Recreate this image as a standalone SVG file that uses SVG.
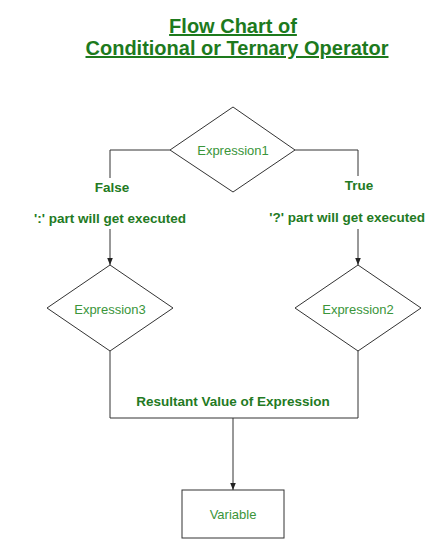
<svg xmlns="http://www.w3.org/2000/svg" width="427" height="540" viewBox="0 0 427 540">
<style>
.title{font-family:"Liberation Sans",Arial,sans-serif;font-size:20px;font-weight:bold;fill:#1d7a1d;text-anchor:middle;text-decoration:underline}
.lbl{font-family:"Liberation Sans",Arial,sans-serif;font-size:13.5px;font-weight:bold;fill:#237a23;text-anchor:middle}
.nt{font-family:"Liberation Sans",Arial,sans-serif;font-size:13px;fill:#3a953a;text-anchor:middle}
.shape{fill:#fff;stroke:#333;stroke-width:1}
.conn{fill:none;stroke:#333;stroke-width:1}
</style>
<defs>
<marker id="arr" viewBox="0 0 10 10" refX="10" refY="5" markerWidth="7" markerHeight="7" orient="auto" markerUnits="userSpaceOnUse">
<path d="M0,1 L10,5 L0,9 Z" fill="#222"/>
</marker>
</defs>
<rect width="427" height="540" fill="#fff"/>
<g id="title">
<text class="title" x="233" y="33">Flow Chart of</text>
<text class="title" x="237" y="55">Conditional or Ternary Operator</text>
</g>
<g id="connectors">
<polyline class="conn" points="170,150 110,150 110,178"/>
<line class="conn" x1="110" y1="229" x2="110" y2="265" marker-end="url(#arr)"/>
<polyline class="conn" points="295,150 358,150 358,176"/>
<line class="conn" x1="358" y1="229" x2="358" y2="265" marker-end="url(#arr)"/>
<polyline class="conn" points="110,351 110,418 358,418 358,351"/>
<line class="conn" x1="233" y1="418" x2="233" y2="490" marker-end="url(#arr)"/>
</g>
<g id="labels">
<text class="lbl" x="112" y="192">False</text>
<text class="lbl" x="359" y="190">True</text>
<text class="lbl" x="110" y="223">':' part will get executed</text>
<text class="lbl" x="425" y="222" style="text-anchor:end">'?' part will get executed</text>
<text class="lbl" x="233" y="406">Resultant Value of Expression</text>
</g>
<g id="expression1">
<polygon class="shape" points="233,107 295,150 233,192 170,150"/>
<text class="nt" x="233" y="155">Expression1</text>
</g>
<g id="expression3">
<polygon class="shape" points="110,265 173,308 110,351 47,308"/>
<text class="nt" x="110" y="314">Expression3</text>
</g>
<g id="expression2">
<polygon class="shape" points="358,265 421,308 358,351 295,308"/>
<text class="nt" x="358" y="314">Expression2</text>
</g>
<g id="variable">
<rect class="shape" x="182" y="490" width="102" height="48"/>
<text class="nt" x="233" y="519">Variable</text>
</g>
</svg>
